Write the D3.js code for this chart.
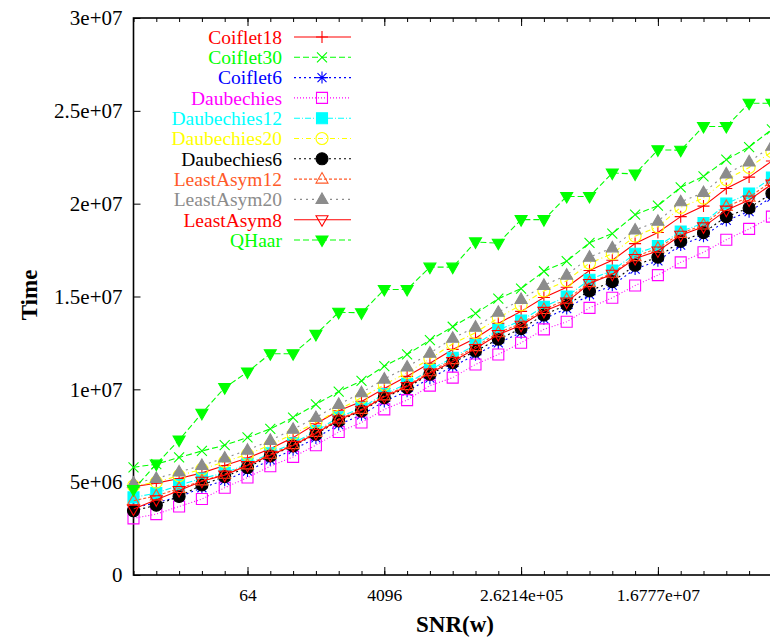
<!DOCTYPE html>
<meta charset="utf-8">
<script src="https://d3js.org/d3.v7.min.js"></script>
<body style="margin:0;background:#fff">
<svg width="770" height="639"></svg>
<style type="text/css">
text{
    font-family: 'Liberation Serif', 'Times New Roman', serif;
}
.ttl{
    font-weight: bold;
    font-size: 23px;
}
.xax .tick text{
    font-size: 17.5px;
}
.yax .tick text{
    font-size: 21px;
}
.legend text{
    font-size: 19.5px;
}
</style>
<script>
    // x values (powers of two)
    const SNR = [2, 4, 8, 16, 32, 64, 128, 256, 512, 1024, 2048, 4096, 8192, 16384, 32768,
        65536, 131072, 262144, 524288, 1048576, 2097152, 4194304, 8388608, 16777216,
        33554432, 67108864, 134217728, 268435456, 536870912];

    // times, in units of 1e6
    const Coiflet18    = [4.75, 4.95, 5.2, 5.5, 5.9, 6.3, 6.8, 7.4, 8.15, 8.85, 9.35, 10.05, 10.7, 11.4, 12.15, 12.75, 13.55, 14.2, 14.95, 15.5, 16.4, 16.95, 17.85, 18.45, 19.3, 19.87, 20.82, 21.43, 22.3];
    const Coiflet30    = [5.8, 5.97, 6.33, 6.68, 6.99, 7.41, 7.87, 8.48, 9.19, 9.88, 10.45, 11.25, 11.88, 12.65, 13.37, 14.09, 14.88, 15.43, 16.36, 16.9, 17.89, 18.39, 19.41, 19.89, 20.88, 21.47, 22.37, 23.05, 24.0];
    const Coiflet6     = [3.6, 3.9, 4.2, 4.7, 5.1, 5.6, 6.2, 6.75, 7.38, 8.1, 8.63, 9.35, 9.9, 10.6, 11.23, 11.86, 12.5, 13.05, 13.8, 14.35, 15.1, 15.6, 16.48, 16.92, 17.77, 18.24, 19.1, 19.57, 20.35];
    const Daubechies   = [3.05, 3.28, 3.69, 4.09, 4.7, 5.25, 5.86, 6.36, 6.99, 7.7, 8.21, 8.92, 9.42, 10.2, 10.63, 11.34, 11.88, 12.51, 13.23, 13.64, 14.39, 14.93, 15.59, 16.15, 16.84, 17.38, 18.06, 18.64, 19.3];
    const Daubechies12 = [4.18, 4.41, 4.84, 5.2, 5.5, 5.97, 6.56, 7.1, 7.75, 8.5, 9.0, 9.75, 10.3, 11.05, 11.7, 12.4, 13.2, 13.7, 14.45, 15.0, 15.9, 16.4, 17.3, 17.72, 18.5, 18.95, 20.0, 20.55, 21.4];
    const Daubechies20 = [4.8, 5.0, 5.35, 5.7, 6.1, 6.5, 7.0, 7.6, 8.2, 8.9, 9.55, 10.25, 10.9, 11.65, 12.45, 13.05, 13.85, 14.55, 15.3, 15.85, 16.8, 17.3, 18.25, 18.75, 19.8, 20.3, 21.3, 21.95, 22.8];
    const Daubechies6  = [3.46, 3.76, 4.23, 4.85, 5.3, 5.79, 6.41, 6.95, 7.58, 8.3, 8.83, 9.55, 10.09, 10.81, 11.43, 12.06, 12.7, 13.27, 14.0, 14.55, 15.3, 15.8, 16.68, 17.12, 17.97, 18.44, 19.3, 19.77, 20.55];
    const LeastAsym12  = [4.0, 4.26, 4.66, 5.07, 5.43, 5.93, 6.5, 7.02, 7.68, 8.4, 8.92, 9.65, 10.2, 10.95, 11.6, 12.3, 13.05, 13.55, 14.3, 14.85, 15.75, 16.25, 17.15, 17.6, 18.4, 18.85, 19.85, 20.35, 21.2];
    const LeastAsym20  = [4.95, 5.2, 5.55, 5.9, 6.3, 6.72, 7.25, 7.85, 8.48, 9.19, 9.82, 10.55, 11.2, 11.95, 12.75, 13.35, 14.15, 14.84, 15.6, 16.15, 17.12, 17.62, 18.58, 19.05, 20.1, 20.6, 21.6, 22.25, 23.1];
    const LeastAsym8   = [3.55, 4.05, 4.55, 5.05, 5.38, 5.9, 6.45, 6.98, 7.62, 8.35, 8.87, 9.6, 10.15, 10.88, 11.5, 12.2, 12.95, 13.45, 14.2, 14.7, 15.7, 16.2, 17.05, 17.45, 18.3, 18.75, 19.65, 20.2, 21.05];
    const QHaar        = [4.6, 5.97, 7.27, 8.71, 10.09, 10.93, 11.92, 11.92, 12.96, 14.15, 14.12, 15.38, 15.38, 16.58, 16.58, 17.94, 17.87, 19.14, 19.14, 20.39, 20.39, 21.65, 21.6, 22.9, 22.88, 24.16, 24.16, 25.41, 25.41];

    const NAMES = ['Coiflet18', 'Coiflet30', 'Coiflet6', 'Daubechies', 'Daubechies12', 'Daubechies20',
        'Daubechies6', 'LeastAsym12', 'LeastAsym20', 'LeastAsym8', 'QHaar'];
    const VALUES = [Coiflet18, Coiflet30, Coiflet6, Daubechies, Daubechies12, Daubechies20,
        Daubechies6, LeastAsym12, LeastAsym20, LeastAsym8, QHaar];

    const XTICKS = [64, 4096, 262144, 16777216];
    const XTICK_LABELS = ['64', '4096', '2.6214e+05', '1.6777e+07'];
    const YTICKS = [0, 5, 10, 15, 20, 25, 30];
    const YTICK_LABELS = ['0', '5e+06', '1e+07', '1.5e+07', '2e+07', '2.5e+07', '3e+07'];

    // gnuplot-ish line types (colour, dash, point type)
    const STYLE = [
        {c: '#ff0000', dash: null,      pt: 'plus'},
        {c: '#00ff00', dash: '6,3',     pt: 'cross'},
        {c: '#0000ff', dash: '2,3',     pt: 'star'},
        {c: '#ff00ff', dash: '1,2',     pt: 'box'},
        {c: '#00ffff', dash: '6,2,1,2', pt: 'fbox'},
        {c: '#ffff00', dash: '5,3,1,3', pt: 'circle'},
        {c: '#000000', dash: '2,3',     pt: 'fcircle'},
        {c: '#ff5a28', dash: '3,2',     pt: 'tri'},
        {c: '#8c8c8c', dash: '2,4',     pt: 'ftri'},
        {c: '#ff0000', dash: null,      pt: 'itri'},
        {c: '#00ff00', dash: '6,3',     pt: 'fitri'}
    ];

    const L = 133.5, R = 794.7, T = 18, B = 575;
    const x = d3.scaleLog().base(2).domain([2, Math.pow(2, 30)]).range([L, R]);
    const y = d3.scaleLinear().domain([0, 30]).range([B, T]);

    const svg = d3.select('svg');

    function marker(t){
        const s = 6;
        switch(t){
            case 'plus':  return `M${-s},0H${s}M0,${-s}V${s}`;
            case 'cross': return `M${-5},${-5}L5,5M-5,5L5,-5`;
            case 'star':  return `M${-s},0H${s}M0,${-s}V${s}M-4.5,-4.5L4.5,4.5M-4.5,4.5L4.5,-4.5`;
            case 'box': case 'fbox': return 'M-5.5,-5.5H5.5V5.5H-5.5Z';
            case 'circle': case 'fcircle': return 'M-6,0A6,6 0 1,0 6,0A6,6 0 1,0 -6,0Z';
            case 'tri': case 'ftri': return 'M0,-6.5L6,4L-6,4Z';
            case 'itri': case 'fitri': return 'M0,6.5L6,-4L-6,-4Z';
        }
    }
    const filled = t => t[0] === 'f';

    svg.append('defs').append('clipPath').attr('id', 'clip')
        .append('rect').attr('x', L).attr('y', T).attr('width', R - L).attr('height', B - T);

    /* ----------- axes ----------- */
    const MINOR = SNR.concat([Math.pow(2, 30)]);
    svg.append('g').attr('transform', `translate(0,${B})`)
        .call(d3.axisBottom(x).tickValues(MINOR).tickSize(-4).tickFormat(''));
    svg.append('g').attr('transform', `translate(0,${T})`)
        .call(d3.axisTop(x).tickValues(MINOR).tickSize(-4).tickFormat(''));
    svg.append('g').attr('class', 'xax').attr('transform', `translate(0,${B})`)
        .call(d3.axisBottom(x).tickValues(XTICKS).tickSize(-8).tickPadding(14)
            .tickFormat((d, i) => XTICK_LABELS[i]));
    svg.append('g').attr('transform', `translate(0,${T})`)
        .call(d3.axisTop(x).tickValues(XTICKS).tickSize(-8).tickFormat(''));
    svg.append('g').attr('class', 'yax').attr('transform', `translate(${L},0)`)
        .call(d3.axisLeft(y).tickValues(YTICKS).tickSize(-7).tickPadding(11)
            .tickFormat((d, i) => YTICK_LABELS[i]));

    svg.selectAll('.domain').remove();
    svg.selectAll('.tick line').attr('stroke', '#000').attr('stroke-width', 1);
    svg.selectAll('.tick text').attr('fill', '#000');

    svg.append('rect')
        .attr('x', L).attr('y', T).attr('width', R - L).attr('height', B - T)
        .attr('fill', 'none').attr('stroke', '#000').attr('stroke-width', 1.6);

    svg.append('text').attr('class', 'ttl')
        .attr('transform', 'translate(37,295) rotate(-90)')
        .attr('text-anchor', 'middle').text('Time');
    svg.append('text').attr('class', 'ttl')
        .attr('x', 455).attr('y', 632)
        .attr('text-anchor', 'middle').text('SNR(w)');

    /* ----------- series ----------- */
    const line = d3.line().x((d, i) => x(SNR[i])).y(d => y(d));

    NAMES.forEach(function(name, k){
        const st = STYLE[k];
        const g = svg.append('g');
        g.append('path')
            .attr('clip-path', 'url(#clip)')
            .attr('d', line(VALUES[k]))
            .attr('fill', 'none')
            .attr('stroke', st.c)
            .attr('stroke-width', 1.1)
            .attr('stroke-dasharray', st.dash);
        g.selectAll('path.pt').data(VALUES[k]).enter().append('path')
            .attr('class', 'pt')
            .attr('transform', (d, i) => `translate(${x(SNR[i])},${y(d)})`)
            .attr('d', marker(st.pt))
            .attr('fill', filled(st.pt) ? st.c : 'none')
            .attr('stroke', st.c)
            .attr('stroke-width', 1.1);

        /* legend entry */
        const ly = 37 + k * 20.3;
        const lg = svg.append('g').attr('class', 'legend');
        lg.append('text')
            .attr('x', 282).attr('y', ly).attr('dy', '0.35em')
            .attr('text-anchor', 'end').attr('fill', st.c)
            .text(name);
        lg.append('line')
            .attr('x1', 294).attr('x2', 351).attr('y1', ly).attr('y2', ly)
            .attr('stroke', st.c).attr('stroke-width', 1.1)
            .attr('stroke-dasharray', st.dash);
        lg.append('path')
            .attr('transform', `translate(322,${ly})`)
            .attr('d', marker(st.pt))
            .attr('fill', filled(st.pt) ? st.c : 'none')
            .attr('stroke', st.c).attr('stroke-width', 1.1);
    });
</script>
</body>
